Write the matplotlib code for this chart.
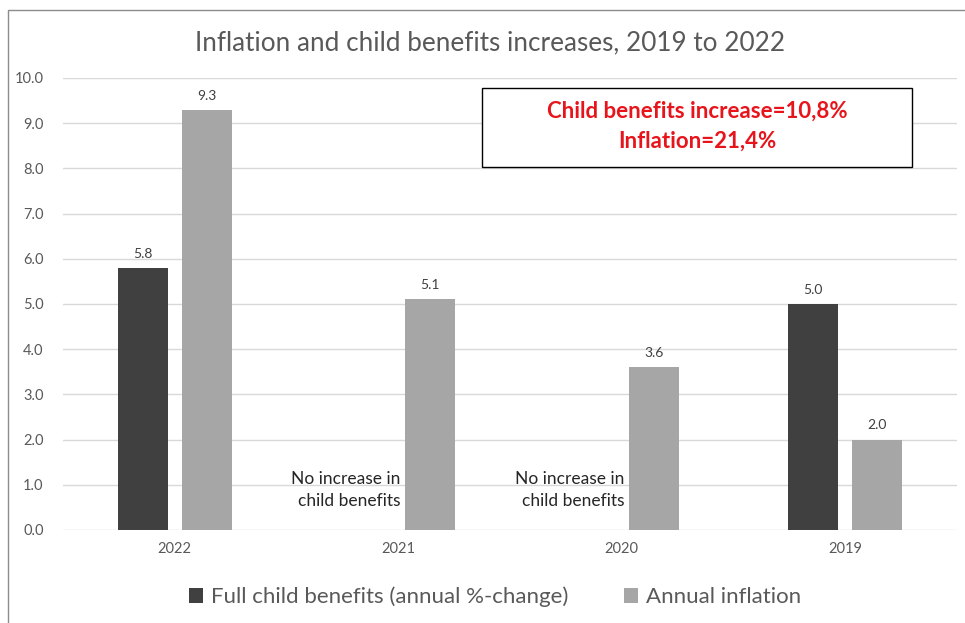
import numpy as np
import matplotlib.pyplot as plt
from matplotlib.patches import Rectangle

years = ['2022', '2021', '2020', '2019']
child_benefits = [5.8, 0.0, 0.0, 5.0]
inflation = [9.3, 5.1, 3.6, 2.0]
has_increase = [True, False, False, True]

dark = '#404040'
light = '#a6a6a6'
txt = '#595959'

plt.rcParams['font.family'] = ['Lato', 'DejaVu Sans']

fig = plt.figure(figsize=(9.65, 6.23), dpi=100)
ax = fig.add_axes([0.0653, 0.1493, 0.9264, 0.7255])

x = np.arange(len(years))
w = 0.224
off = 0.143

b1 = ax.bar(x - off, child_benefits, w, color=dark, label='Full child benefits (annual %-change)', zorder=3)
b2 = ax.bar(x + off, inflation, w, color=light, label='Annual inflation', zorder=3)

for i in range(len(years)):
    if has_increase[i]:
        ax.text(x[i] - off, child_benefits[i] + 0.18, f'{child_benefits[i]:.1f}',
                ha='center', va='bottom', fontsize=10, color=dark)
    else:
        ax.text(x[i] + off - w / 2 - 0.02, 0.88, 'No increase in\nchild benefits',
                ha='right', va='center', fontsize=12.5, color='#262626', linespacing=1.5)
    ax.text(x[i] + off, inflation[i] + 0.18, f'{inflation[i]:.1f}',
            ha='center', va='bottom', fontsize=10, color=dark)

ax.set_xlim(-0.5, 3.5)
ax.set_ylim(0, 10)
ax.set_yticks(np.arange(0, 10.1, 1))
ax.set_yticklabels([f'{v:.1f}' for v in np.arange(0, 10.1, 1)])
ax.set_xticks(x)
ax.set_xticklabels(years)
ax.tick_params(axis='both', length=0, labelsize=10.5, labelcolor=txt)
ax.tick_params(axis='y', pad=14)
ax.tick_params(axis='x', pad=9)
ax.grid(axis='y', color='#d9d9d9', linewidth=1, zorder=0)
for s in ax.spines.values():
    s.set_visible(False)

fig.text(0.508, 0.932, 'Inflation and child benefits increases, 2019 to 2022',
         ha='center', va='center', fontsize=18.8, color=txt)

# summary box
fig.patches.append(Rectangle((482 / 965, 1 - 167 / 623), 430 / 965, 79 / 623,
                             transform=fig.transFigure, facecolor='white',
                             edgecolor='black', linewidth=1, zorder=5))
fig.text(697 / 965, 1 - 126 / 623, 'Child benefits increase=10,8%\nInflation=21,4%',
         ha='center', va='center', fontsize=16, color='#e8141b', fontweight='bold',
         linespacing=1.55, zorder=6)

# outer chart border
fig.patches.append(Rectangle((8 / 965, -0.05), 1.1, 1 - 10 / 623 + 0.05,
                             transform=fig.transFigure, facecolor='none',
                             edgecolor='#8c8c8c', linewidth=1))

fig.legend(handles=[b1, b2], loc='center', bbox_to_anchor=(0.513, 0.042), ncol=2,
           frameon=False, fontsize=16, labelcolor=txt, handlelength=0.65,
           handleheight=0.65, handletextpad=0.35, columnspacing=2.5)

fig.savefig('out.png', dpi=100)
